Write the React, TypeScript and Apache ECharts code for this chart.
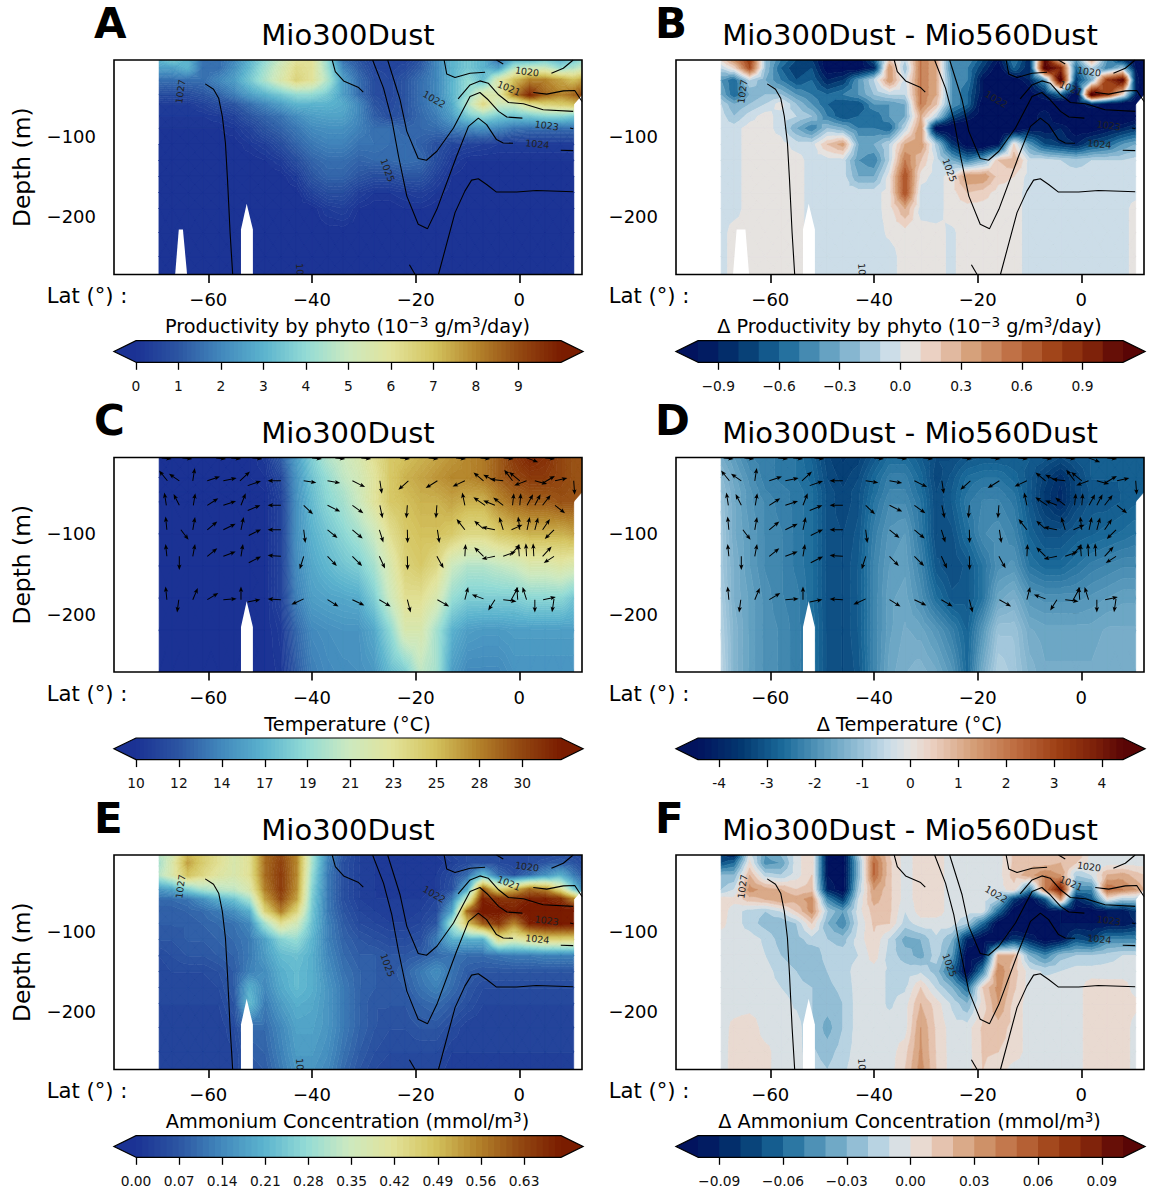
import React, { useEffect, useRef } from "react";
import * as echarts from "echarts";

const FONT = "DejaVu Sans";
const lats = [-69.5,-67,-64,-61,-58,-55,-52,-49,-46,-43,-40,-37,-34,-31,-28,-25,-22,-19,-16,-13,-10,-7,-4,-1,2,5,8,10.5,12.1];
const depths = [-5,-15,-30,-48,-60,-75,-90,-110,-130,-150,-170,-190,-220,-250,-272];
const tempDepths = [-5,-30,-48,-60,-100,-140,-180,-220,-272];

const productivity = [
[3,3.5,3,1.5,1.5,2,3,4,5,6,6,4,1.5,1,.5,.5,.5,1,2,3,3.5,3,1.5,3,3,3.5,3,3.5,4],
[2.5,2.5,3,1.5,1.5,2.2,3.2,4.3,5.3,6.3,6,4.2,2,1.2,.6,.5,.7,1.2,2,3,3.5,3,2.5,4.5,5,5,4,4.5,5],
[1.5,1.5,1.5,1.5,2,2.5,3.5,4.5,5.5,6.5,6,4.5,2.5,1.5,.8,.6,1,1.5,2,3,4,3.2,5.5,7,8,8,7.5,7,7.5],
[.8,.8,.8,1,1.3,1.8,2.5,3,3.5,4,4,3.5,2.5,1.5,.8,.6,1,1.5,2,3,4,5.5,5.5,8,9.7,8.5,8,8.5,9],
[.3,.3,.3,.5,.8,1,1.5,2,2.5,3,3,3,2.8,2,1,.7,1,1.5,2,2.8,4.5,6.3,5,5,6,6.5,6.7,7],
[.2,.2,.2,.2,.3,.5,1,1.3,1.6,2.1,2.5,2.6,2.6,2,1.2,.8,1,1.4,1.8,2.5,3.5,4,3.5,3.3,3.5,3.8,3.8,3.5],
[.1,.1,.1,.1,.1,.2,.5,1,1.3,1.7,2.1,2.2,2.2,1.9,1.5,1.5,1.3,1.4,1.5,1.8,2,2.2,2,1.6,1.5,1.5,1.5,1.5],
[0,0,0,0,0,0,.2,.4,.8,1.3,1.7,1.9,1.9,1.6,1.6,1.5,1.5,1.2,.9,.6,.5,.4,.3,.3,.3,.3,.3,.3],
[0,0,0,0,0,0,0,.1,.3,.8,1.3,1.5,1.5,1.3,1.4,1.4,1.5,1.4,.8,.3,.1,.1,.1,.1,.1,.1,.1,.1],
[0,0,0,0,0,0,0,0,0,.3,1,1.3,1.3,1,.8,.8,1,1,.5,.1,0,0,0,0,0,0,0,0],
[0,0,0,0,0,0,0,0,0,0,.5,.8,.8,.4,.2,.2,.3,.4,.2,0,0,0,0,0,0,0,0,0],
[0,0,0,0,0,0,0,0,0,0,0,.3,.4,.1,0,0,.1,.1,0,0,0,0,0,0,0,0,0,0],
[0,0,0,0,0,0,0,0,0,0,0,0,0,0,0,0,0,0,0,0,0,0,0,0,0,0,0,0],
[0,0,0,0,0,0,0,0,0,0,0,0,0,0,0,0,0,0,0,0,0,0,0,0,0,0,0,0],
[0,0,0,0,0,0,0,0,0,0,0,0,0,0,0,0,0,0,0,0,0,0,0,0,0,0,0,0],
];
const productivityDelta = [
[.1,.4,.8,-.2,-.5,-.7,-.8,-1.1,-1.1,-1.1,-.7,.2,-.1,.5,.3,-.5,-.4,-.7,-1,-.5,-.9,1.1,.2,-.4,.3,-.4,-.8,-1.1,-1.2],
[-.1,.1,.7,-.2,-.6,-.8,-.7,-1.1,-1.1,-1.1,-.9,.4,-.2,.5,.3,-.5,-.5,-.8,-1.1,-.6,-.9,1.2,.9,-.6,-.1,-.5,-.2,-1,-1.2],
[-.4,-.6,-.1,-.3,-.5,-.7,-.6,-.9,-.8,-.4,-.1,.4,-.05,.5,.3,-.4,-.5,-1,-1.2,-1.1,-.9,-.4,1.2,-.8,-.3,.8,1.1,-.9,-1.2],
[-.3,-.6,-.3,-.2,-.2,-.4,-.5,-.6,-.5,-.4,-.2,-.1,-.1,.5,.3,-.4,-.6,-1,-1.2,-1.3,-1.1,-.9,-.6,-1.2,1.2,.8,.1,-.9,-1.3],
[-.1,-.3,-.2,-.1,.05,-.2,-.4,-.6,-.7,-.7,-.4,-.4,-.3,.5,.2,-.4,-.6,-1.1,-1.2,-1.3,-1.1,-1.1,-1.2,-1.1,-.9,-1.1,-1.2,-1.2],
[-.05,-.2,-.05,.05,-.05,-.1,-.2,-.5,-.7,-.6,-.6,-.4,-.3,.3,-.1,-.7,-.9,-1.1,-1.2,-1.3,-1.1,-.9,-1.2,-1.2,-1.2,-1.2,-1.2,-1.1],
[-.05,-.05,.05,.05,-.05,-.3,-.5,-.2,-.3,-.5,-.5,-.6,-.1,.4,-1.1,-1.2,-1.2,-1.3,-1.3,-1.2,-1,-1,-.9,-1.1,-1.1,-1,-.9,-.8],
[-.05,-.05,.05,.05,.05,-.05,-.05,.2,.35,-.3,-.3,-.1,.3,.4,-.15,-.8,-1.1,-1.2,-1,.1,-.4,-.7,-.8,-.9,-.7,-.6,-.4,-.3],
[-.05,-.05,.05,.05,.05,.05,-.05,-.05,-.05,-.4,-.5,-.1,.5,.2,-.05,-.3,-.5,-.3,.2,.3,-.05,-.05,-.1,-.15,-.1,-.1,-.1,-.05],
[-.05,-.05,.05,.05,.05,.05,-.05,-.05,-.05,-.3,-.3,.05,.7,.05,-.05,.05,.4,.4,.15,.1,-.05,-.05,-.05,-.05,-.05,-.05,-.05,-.05],
[-.05,-.05,.05,.05,.05,.05,-.05,-.05,-.05,-.05,-.05,.05,.7,-.05,-.05,.05,.2,.15,.05,.05,-.05,-.05,-.05,-.05,-.05,-.05,-.05,-.05],
[-.05,-.05,.05,.05,.05,.05,-.05,-.05,-.05,-.05,-.05,.05,.3,-.05,-.05,.05,.05,.05,.05,.05,-.05,-.05,-.05,-.05,-.05,-.05,-.05,.05],
[-.05,.05,.05,.05,.05,.05,-.05,-.05,-.05,-.05,-.05,.02,.05,.05,.03,-.02,.05,.05,.05,.05,-.05,-.05,-.05,-.05,-.05,-.05,-.05,.05],
[-.05,.05,.05,.05,.05,.05,-.05,-.05,-.05,-.05,-.05,-.05,.05,.05,.03,-.02,.05,.05,.05,.05,-.05,-.05,-.05,-.05,-.05,-.05,-.05,.05],
[-.05,.05,.05,.05,.05,.05,-.05,-.05,-.05,-.05,-.05,-.05,.05,.05,.03,-.02,.05,.05,.05,.05,-.05,-.05,-.05,-.05,-.05,-.05,-.05,.05],
];
const temperature = [
[8,8,8,8,9,9,10,10.5,12.5,15.5,18,20,21,22,23.5,25,25.5,26,26.5,27,27.5,28,29,30.5,31.5,31,30,29.5,29.5],
[8,8,8,8,9,9,10,10.2,11.5,15,17.5,19,20.5,21.5,23,25,26,26.5,27,27.5,27.5,28,29,30,30.5,30.5,30,29.5,29.5],
[8,8,8,8,9,9,9.7,10,11.2,14.9,17.2,18.7,19.8,21.2,23,25,25.7,26.2,26.4,26.9,26.6,26.7,28,29,29.5,29.5,29.7,29.5,29.5],
[8,8,8,8,9,9,9.5,10,11,14.8,17,18.5,19.5,21,23,25,25.5,26,26,26.5,26,26,27.5,28.5,29,29,29.5,29.5],
[8,8,8,8,9,9,9.5,10,11,14.8,16.5,17.5,18.5,19.5,21,23.5,25,25.5,25.5,25,24,24,25,25.5,26,26,26,26.5],
[8,8,8,8,9,9,9.5,10,11,14.5,16,16.8,17.5,18,19.5,22,24.5,25,24,21,20,20,20.5,21,22,22,22.5,22],
[8,8,8,8,9,9,9.5,10,11,14,15.5,15.8,16,16.2,18,21,23.5,23.5,22,19,18,18,18,18,18.5,18.5,18.5,17.5],
[8,8,8,8,9,9,9.5,10,10.5,13,14.5,14.8,15,15,16,18.5,22,22,19.5,16.5,15.5,15.3,15.3,15.5,15.5,15.5,15.5,15.5],
[8,8,8,8,9,9,9.5,10,10.3,12.5,14,14.5,14.7,14.8,15.2,17,18,20.5,19.5,15.5,14.5,14.5,14.5,15,15,15,15,15],
];
const temperatureDelta = [
[-1.5,-1.8,-2.2,-2.3,-2.4,-2.5,-2.8,-3.3,-3.5,-3.4,-3,-2.6,-2.6,-2.9,-3.2,-3.2,-3,-2.9,-2.9,-2.9,-2.9,-3,-3.2,-3,-2.9,-2.9,-2.9,-2.9,-2.9],
[-1.2,-1.6,-2,-2.3,-2.4,-2.5,-2.7,-3.2,-3.4,-3.2,-2.7,-2.3,-2.3,-2.7,-3.3,-3,-2.6,-2.5,-2.5,-2.7,-3,-3.4,-3.7,-3.3,-2.9,-2.9,-2.9,-2.9,-2.9],
[-1.1,-1.5,-1.9,-2.2,-2.3,-2.4,-2.6,-3.1,-3.3,-3.1,-2.6,-2.2,-2.2,-2.6,-3.2,-2.9,-2.5,-2.3,-2.3,-2.5,-3,-3.5,-3.8,-3.3,-3,-3,-2.9,-2.9,-2.9],
[-1,-1.5,-1.9,-2.1,-2.3,-2.4,-2.6,-3.1,-3.3,-3.1,-2.5,-2.1,-2.1,-2.5,-3.2,-2.9,-2.4,-2.2,-2.2,-2.4,-3,-3.5,-3.8,-3.3,-3,-3,-2.9,-2.8],
[-.9,-1.5,-1.8,-2.1,-2.2,-2.4,-2.6,-3.1,-3.2,-3,-2.3,-1.9,-1.8,-2.4,-3.2,-3.1,-2.6,-2.1,-2,-2.2,-2.8,-3.1,-3.1,-2.9,-2.8,-2.7,-2.6,-2.5],
[-.9,-1.4,-1.8,-2.1,-2.2,-2.4,-2.6,-3.1,-3.2,-2.9,-2.2,-1.8,-1.7,-2.2,-3,-3.2,-3,-2.5,-2,-1.9,-2.5,-2.7,-2.7,-2.5,-2.3,-2.2,-2.1,-2.1],
[-.8,-1.4,-1.7,-2,-2.2,-2.3,-2.6,-3.1,-3.2,-2.9,-2.2,-1.7,-1.6,-2,-2.6,-3,-3,-2.5,-1.6,-1.4,-1.9,-2,-2,-2,-1.9,-1.8,-1.7,-1.7],
[-.7,-1.3,-1.7,-2,-2.1,-2.3,-2.5,-3.1,-3.2,-2.9,-2.2,-1.7,-1.5,-1.6,-1.9,-2.3,-2.8,-1.9,-1,-1,-1.5,-1.6,-1.6,-1.6,-1.6,-1.5,-1.5,-1.5],
[-.6,-1.3,-1.7,-2,-2.1,-2.3,-2.5,-3.1,-3.2,-3,-2.2,-1.6,-1.4,-1.3,-1.5,-1.9,-2.7,-1.5,-.7,-.9,-1.3,-1.5,-1.5,-1.5,-1.5,-1.4,-1.4,-1.4],
];
const ammonium = [
[.32,.36,.5,.46,.42,.38,.42,.58,.62,.55,.3,.14,.07,.03,.02,.02,.02,.02,.02,.04,.05,.05,.05,.04,.05,.05,.06,.05,.04],
[.3,.38,.52,.46,.42,.38,.42,.58,.63,.55,.3,.13,.06,.03,.02,.01,.01,.01,.01,.03,.05,.06,.05,.04,.05,.07,.08,.07,.05],
[.32,.38,.48,.44,.4,.38,.42,.58,.64,.55,.28,.12,.06,.03,.02,.01,.01,.01,.02,.05,.1,.22,.1,.06,.1,.15,.2,.12,.08],
[.16,.18,.25,.3,.32,.33,.38,.56,.64,.54,.26,.12,.06,.03,.02,.01,.01,.01,.02,.06,.2,.6,.45,.5,.58,.55,.42,.25,.15],
[.1,.1,.11,.15,.2,.23,.3,.52,.62,.52,.25,.12,.06,.03,.02,.02,.02,.02,.04,.12,.35,.68,.65,.65,.68,.68,.65,.55],
[.08,.08,.09,.1,.12,.15,.2,.45,.56,.45,.24,.12,.07,.04,.03,.02,.02,.03,.05,.18,.58,.72,.7,.68,.72,.72,.72,.72],
[.08,.08,.08,.09,.1,.11,.14,.3,.42,.36,.23,.13,.08,.05,.04,.03,.03,.04,.07,.3,.48,.6,.65,.55,.68,.7,.7,.7],
[.07,.07,.08,.08,.09,.1,.12,.18,.26,.28,.21,.13,.09,.07,.06,.05,.05,.06,.12,.2,.2,.2,.42,.38,.42,.45,.45,.45],
[.05,.06,.07,.07,.08,.09,.12,.17,.22,.23,.2,.14,.1,.08,.08,.07,.07,.08,.1,.11,.1,.1,.11,.12,.12,.13,.13,.13],
[.04,.05,.05,.05,.06,.08,.13,.15,.2,.22,.2,.15,.11,.09,.08,.07,.09,.12,.15,.11,.08,.07,.07,.07,.07,.07,.07,.07],
[.04,.04,.04,.04,.05,.08,.2,.14,.19,.22,.2,.16,.12,.09,.08,.07,.08,.11,.13,.1,.07,.05,.05,.05,.05,.05,.05,.05],
[.04,.04,.04,.04,.04,.07,.22,.12,.17,.2,.19,.16,.12,.09,.07,.07,.07,.09,.1,.08,.06,.04,.04,.04,.04,.04,.04,.04],
[.03,.03,.03,.03,.03,.05,.1,.1,.14,.18,.18,.16,.12,.09,.07,.06,.06,.07,.07,.05,.03,.03,.03,.03,.03,.03,.03,.03],
[.03,.03,.03,.03,.03,.04,.08,.09,.13,.17,.17,.15,.11,.08,.06,.05,.05,.05,.05,.03,.03,.03,.03,.03,.03,.03,.03,.03],
[.03,.03,.03,.03,.03,.04,.07,.08,.12,.16,.16,.14,.1,.07,.05,.04,.04,.04,.04,.02,.02,.02,.02,.02,.02,.02,.02,.02],
];
const ammoniumDelta = [
[-.08,-.09,-.005,-.04,-.03,-.005,.01,-.1,-.11,-.02,.04,.01,-.005,.005,.005,-.005,-.005,-.005,-.005,.012,.012,.012,.012,.02,-.005,-.005,-.005,-.005,-.005],
[-.07,-.06,.003,-.045,-.04,-.005,.01,-.1,-.11,-.03,.05,.012,-.005,.005,.005,-.005,-.005,-.005,-.005,.012,.015,.015,.02,.01,-.005,-.005,-.005,-.005,-.005],
[-.03,-.03,.02,-.015,-.02,-.005,.01,-.1,-.11,-.03,.05,.012,-.005,.005,.005,-.005,-.005,-.005,-.005,.015,.025,.04,.03,-.02,-.01,.02,.025,.015,.01],
[-.02,-.01,.035,.025,.02,.01,.015,-.09,-.11,-.02,.03,.012,-.005,.005,.005,-.005,-.005,-.005,-.005,.005,-.05,.04,.09,-.05,-.05,.05,.04,.03,.02],
[.005,.003,.015,.02,.03,.025,.035,-.05,-.08,-.01,.025,.012,-.005,.005,.005,-.005,-.005,-.005,-.02,-.08,-.11,-.07,.03,-.09,-.07,0,-.02,-.02],
[.005,-.005,-.015,-.02,-.01,.01,.035,-.02,-.04,-.005,.015,.012,-.01,.005,.005,-.005,-.005,-.005,-.06,-.11,-.12,-.11,-.1,-.11,-.11,-.1,-.1,-.08],
[.003,-.005,-.015,-.025,-.03,-.02,.01,-.03,-.05,-.01,.012,.01,-.015,-.005,-.005,-.005,-.02,-.06,-.11,-.12,-.12,-.11,-.1,-.1,-.1,-.1,-.1,-.09],
[-.005,-.005,-.005,-.012,-.025,-.025,-.015,-.02,-.025,-.005,.008,-.012,-.035,-.03,-.012,-.03,-.09,-.11,-.11,-.08,-.09,-.11,-.1,-.07,-.08,-.05,-.05,-.05],
[-.005,-.005,-.005,-.01,-.02,-.025,-.03,-.015,-.015,-.01,.005,-.015,-.025,-.035,-.015,-.04,-.11,-.1,.02,.02,-.03,-.05,-.025,-.02,-.02,-.015,-.01,-.01],
[-.005,-.005,-.005,-.005,-.015,-.02,-.03,-.02,-.015,-.005,-.005,-.012,-.015,-.012,-.025,-.06,-.11,-.05,.04,.015,-.005,-.012,-.01,-.005,-.005,-.005,-.005,-.005],
[-.005,-.005,-.005,-.005,-.01,-.015,-.02,-.022,-.018,-.005,-.005,-.012,-.012,.01,-.012,-.03,-.06,.01,.035,.012,-.005,-.005,-.005,-.005,.006,.005,.005,-.005],
[-.005,-.005,-.005,-.005,-.005,-.012,-.02,-.025,-.02,-.005,-.005,-.012,-.005,.02,.005,-.012,-.03,.005,.03,.006,-.005,-.005,-.005,-.005,.006,.006,.006,.003],
[-.005,.003,.007,-.005,-.005,-.005,-.02,-.035,-.02,-.005,-.005,-.005,-.005,.03,.008,-.005,-.005,.012,.015,.006,-.005,-.005,-.005,-.005,.006,.006,.006,-.005],
[-.005,.004,.006,.003,-.005,-.005,-.018,-.025,-.015,-.005,-.005,-.005,.006,.032,.009,-.005,-.005,.011,.01,.006,-.005,-.005,-.005,-.005,.006,.006,.006,-.005],
[-.005,.004,.006,.003,-.005,-.005,-.015,-.02,-.012,-.005,-.005,-.005,.01,.035,.01,-.005,-.005,.01,.006,-.005,-.005,-.005,-.005,-.005,.006,.006,.006,-.005],
];

// isopycnals: [lat, depth]
const isopycnals = [
[[-60.6,-34.7],[-59,-41.3],[-58,-52.5],[-57.3,-75.2],[-56.7,-108.3],[-56.3,-153.7],[-55.8,-219.8],[-55.3,-272]],
[[-36.1,-5],[-35.5,-19.4],[-33.9,-31],[-31,-39.3],[-30.1,-45]],
[[-25.4,-5],[-24.6,-21.5],[-23,-54.5],[-21.7,-93.8],[-19.5,-127.7],[-17.9,-129.8],[-15.9,-118.6],[-12.7,-89.7],[-9.5,-50.4],[-7.6,-45.5],[-6,-54.5],[-4,-69],[-2.4,-76],[.6,-77.3]],
[[-28.3,-5],[-26.2,-40],[-24.6,-79.3],[-23.3,-124.8],[-21.7,-174.4],[-19.5,-209.5],[-17.7,-214.9],[-15.9,-190.9],[-12.1,-124.8],[-9.8,-87.6],[-7.9,-77.3],[-6.3,-85.5],[-4.4,-104.1],[-3.1,-108.3],[-1.2,-108.7]],
[[-15.6,-272],[-12.4,-195],[-10.5,-168.2],[-9.2,-154.5],[-7.9,-152.9],[-6.3,-159.9],[-4.4,-169.4],[-.5,-169.4],[3.3,-167.4],[10.4,-169]],
[[-21.2,-259.9],[-20.1,-272]],
[[-14.5,-5],[-14,-22.3],[-12.4,-26.9],[-9.5,-21.5],[-6.6,-20.2]],
[[-11.8,-53.3],[-9.5,-36],[-7.6,-31],[-6,-33.9],[-4,-48.3],[-2.1,-57.9],[.8,-59.5],[4.6,-66.9],[10.4,-69]],
[[-4.4,-5],[-3.1,-9.9]],
[[6.2,-21.5],[8.5,-15.3],[10.4,-5]],
[[2.7,-45.5],[5.3,-47.5],[8.5,-43.4],[10.7,-43],[12.1,-56.6]],
[[9.8,-89.7],[10.4,-90.5]],
[[8,-117.4],[10.4,-117.8]],
];
const isopycnalLabels = ["1027","1022","1025","1020","1021","1023","1024","10"];
const isopycnalLabelAt = [[-65.4,-44.2,82],[-16.4,-53.7,-30],[-25.4,-142.1,-70],[1.5,-19.4,-8],[-2,-40,-22],[5.3,-86.4,-8],[3.5,-109.5,-6],[-42.3,-265.3,-85]];

// current vectors: lat, depth, u, v
const currents = [
[-69,-5.5,10,-1],[-65,-5.5,10,-1],[-58.5,-5.5,10,-1],[-55.6,-5.5,10,-1],[-51.5,-5.5,10,-1],[-40,-5.5,10,-1],[-35.5,-5.5,10,-1],[-30.5,-5.5,10,-1],[-23,-5.5,10,-1],[-17.5,-5.5,10,-1],[-12.2,-5.5,10,-1],[-7.5,-5.5,10,-1],[-3,-5.5,10,-1],[1.4,-5.5,11.7,-4.3],[5,-5.5,10,-1],
[-67.9,-34,-8.3,10.3],[-65.6,-34,-10.3,7],[-63,-34,2,12.7],[-60.2,-34,12.7,4.3],[-57.1,-34,13.3,2.7],[-53.9,-34,10,9.3],[-52.4,-40,13.3,4.7],[-46,-34,-13.3,0],[-41.6,-34,12.7,-2],[-37,-34,12.7,-2.3],[-32.2,-34,12.7,-6.3],[-26.9,-34,2,-13],[-21.4,-34,-10,-9],[-15.8,-34,-11.7,-7.3],[-10.5,-34,-12.3,-5.7],[-6.9,-34,-10,8.3],[-4.7,-34,-11.7,6],[-3.1,-34,-13.3,1.7],[-1.3,-34,-8.3,11],[.1,-34,-10.7,8.7],[1.4,-34,-12.3,-4.7],[3,-34,12.3,-3.3],[4.5,-37,12.3,7.3],[6.9,-34,12.3,2.7],[10.5,-34,1,-14],
[-68.1,-64.5,-2,12.7],[-65.6,-64.5,-5.7,11.3],[-62.9,-64.5,2,12],[-60.2,-64.5,11,7],[-57.1,-64.5,12.7,4.3],[-53.7,-64.5,4.7,12],[-52.4,-71,12.7,5.3],[-46,-64.5,-13.3,0],[-41.6,-64.5,9.3,-9],[-37,-64.5,12.7,-6.3],[-32.2,-64.5,11,-8],[-26.9,-64.5,2.7,-13],[-21.6,-64.5,-1,-13],[-15.9,-64.5,-1,-13],[-10.5,-64.5,-2.7,12.7],[-6.6,-64.5,-11.7,8],[-4.7,-64.5,-11.7,4.7],[-3.1,-64.5,-10,7.7],[-1.3,-64.5,1.3,12],[.1,-64.5,1,12],[1.5,-64.5,6,11],[3,-64.5,5.7,11],[4.5,-64.5,8,10.3],[6.9,-64.5,10,-8],
[-68,-95,-1.3,13.3],[-65.3,-95,7.7,-10],[-63,-95,2.3,12.7],[-60.2,-95,10,8.3],[-57.1,-95,12.3,6],[-53.7,-95,2.7,12.7],[-52.2,-102,12.3,6],[-46,-95,-13.3,0],[-41.6,-95,1.7,-13.3],[-37,-95,10,-8.3],[-32.2,-95,10.3,-8.7],[-27,-95,4,-12.7],[-21.6,-95,.3,-13.3],[-15.8,-95,2,-13.3],[-10.5,-95,-8.3,10.7],[-6.9,-94,-9.3,8.3],[-4.7,-95,-13.3,2.7],[-3.1,-95,-4,12.7],[-1.5,-95,11,5],[.1,-95,-1.7,13.3],[1.5,-95,2.7,12.7],[3,-95,3.3,12.3],[4.5,-95,7.3,10.7],[6.7,-95,-9.3,-9.3],
[-68,-128,-1.3,12.3],[-65.6,-128,0,-13.7],[-63,-128,2.3,12.3],[-60.2,-128,10,8],[-57.1,-128,12.3,4.7],[-53.7,-128,2,12.3],[-52.2,-136,12.3,6.3],[-46,-128,-13.3,1],[-41.6,-128,-4,-13],[-37,-128,9.3,-9.7],[-32.2,-128,9.7,-9.7],[-27,-128,5.7,-12.3],[-21.6,-128,.3,-13.7],[-15.9,-128,6.7,-12],[-10.5,-128,.7,12.3],[-6.9,-128,-9.3,9],[-4.7,-128,-13.3,-2.7],[-3.1,-128,12.7,4.7],[-1.8,-127,10,11],[0,-128,-1,12.3],[1.4,-128,-.7,13],[2.8,-128,-.7,13],[4.5,-128,9,9.7],[6.7,-128,-10.3,-6.7],
[-68,-182,-1.3,13.3],[-65.7,-182,-1.7,-12.7],[-63,-182,5,11.7],[-60.2,-182,11,6.7],[-57.1,-182,13.3,1],[-53.7,-182,0,13.3],[-52.4,-185,12.7,2.7],[-46,-182,-13.3,.7],[-41.6,-181,-12.3,-5.7],[-37,-182,11,-6.7],[-32.2,-182,12,-5.7],[-27,-182,11.3,-6.7],[-21.6,-182,3.3,-12.7],[-15.8,-182,11.7,-6.7],[-10.5,-182,3.3,12.7],[-6.9,-181,-11.7,4.3],[-4.7,-182,-6.7,-10.7],[-3.1,-182,13.3,-1.7],[-1.7,-184,7.7,14.3],[-.3,-182,-1,12.7],[1.4,-182,-4,12.7],[3,-182,0,-12.7],[4.6,-182,12.7,2.7],[6.7,-181,-2,-13.3],
];

const seamountTall = [[-53.7,-272],[-53.7,-216],[-52.6,-184],[-51.4,-216],[-51.4,-272]];
const seamountLowA = [[-66.4,-272],[-65.7,-216],[-64.9,-216],[-64.1,-272]];
const seamountLowB = [[-67.2,-272],[-66.5,-216],[-64.8,-216],[-64.1,-272]];

const prodTicks = [0,1,2,3,4,5,6,7,8,9];
const prodTickLabels = ["0","1","2","3","4","5","6","7","8","9"];
const dProdTicks = [-.9,-.6,-.3,0,.3,.6,.9];
const dProdTickLabels = ["−0.9","−0.6","−0.3","0.0","0.3","0.6","0.9"];
const tempTicks = [10,12.22,14.44,16.67,18.89,21.11,23.33,25.56,27.78,30];
const tempTickLabels = ["10","12","14","17","19","21","23","25","28","30"];
const dTempTicks = [-4,-3,-2,-1,0,1,2,3,4];
const dTempTickLabels = ["-4","-3","-2","-1","0","1","2","3","4"];
const ammTicks = [0,.07,.14,.21,.28,.35,.42,.49,.56,.63];
const ammTickLabels = ["0.00","0.07","0.14","0.21","0.28","0.35","0.42","0.49","0.56","0.63"];
const dAmmTicks = [-.09,-.06,-.03,0,.03,.06,.09];
const dAmmTickLabels = ["−0.09","−0.06","−0.03","0.00","0.03","0.06","0.09"];

const seqStops: [number,string][] = [[0,"#1b3294"],[.1,"#2c55a2"],[.2,"#4288bc"],[.3,"#5bb3ce"],[.4,"#93dbd5"],[.5,"#cce9c0"],[.6,"#e2e39b"],[.7,"#d4c45f"],[.8,"#b5852c"],[.9,"#944a12"],[1,"#7a1c00"]];
const divStops: [number,string][] = [[-1,"#02135e"],[-.8,"#03376f"],[-.6,"#1b6a9a"],[-.4,"#5f9ebf"],[-.2,"#a4c8dc"],[-.1,"#cbdde8"],[0,"#e6e3e0"],[.1,"#ebd0c2"],[.3,"#d49d76"],[.5,"#bd6b3f"],[.7,"#9c3e13"],[.88,"#7a1e09"],[1,"#590505"]];

function hexRgb(h: string) { return [1,3,5].map(i => parseInt(h.slice(i,i+2),16)); }
function colormap(stops: [number,string][], t: number) {
  if (t <= stops[0][0]) return stops[0][1];
  for (let i = 1; i < stops.length; i++) {
    if (t <= stops[i][0]) {
      const f = (t - stops[i-1][0]) / (stops[i][0] - stops[i-1][0]);
      const a = hexRgb(stops[i-1][1]), b = hexRgb(stops[i][1]);
      return `rgb(${a.map((c,k)=>Math.round(c+(b[k]-c)*f)).join(",")})`;
    }
  }
  return stops[stops.length-1][1];
}

echarts.graphic.registerShape("bandfill", (echarts.graphic as any).extendShape({
  type: "bandfill",
  shape: { polys: [] as number[][][] },
  buildPath(ctx: any, shape: any) {
    for (const p of shape.polys) {
      ctx.moveTo(p[0][0], p[0][1]);
      for (let i = 1; i < p.length; i++) ctx.lineTo(p[i][0], p[i][1]);
      ctx.closePath();
    }
  },
}));

type V = number[];
function clipPoly(poly: V[], f: (p: V) => number) {
  const out: V[] = [];
  for (let i = 0; i < poly.length; i++) {
    const a = poly[i], b = poly[(i+1)%poly.length];
    const fa = f(a), fb = f(b);
    if (fa >= 0) out.push(a);
    if ((fa >= 0) !== (fb >= 0)) {
      const t = fa / (fa - fb);
      out.push([a[0]+(b[0]-a[0])*t, a[1]+(b[1]-a[1])*t, a[2]+(b[2]-a[2])*t]);
    }
  }
  return out;
}
function triangles(rows: number[][], ys: number[]) {
  const tris: V[][] = [];
  for (let j = 0; j + 1 < ys.length; j++) for (let i = 0; i + 1 < lats.length; i++) {
    const raw: [number,number,number|undefined][] = [
      [lats[i],ys[j],rows[j][i]],[lats[i+1],ys[j],rows[j][i+1]],[lats[i+1],ys[j+1],rows[j+1][i+1]],[lats[i],ys[j+1],rows[j+1][i]]];
    const ok = raw.filter(p => p[2] != null) as V[];
    if (ok.length === 4) {
      const c = [0,1,2].map(k => (ok[0][k]+ok[1][k]+ok[2][k]+ok[3][k])/4);
      for (let k = 0; k < 4; k++) tris.push([ok[k], ok[(k+1)%4], c]);
    } else if (ok.length === 3) tris.push(ok);
  }
  return tris;
}
function bandsFor(levels: number[], colorOf: (v: number) => string) {
  const out: {lo:number,hi:number,color:string}[] = [];
  out.push({lo:-1e9,hi:levels[0],color:colorOf(levels[0]-1e6)});
  for (let i = 0; i + 1 < levels.length; i++) out.push({lo:levels[i],hi:levels[i+1],color:colorOf((levels[i]+levels[i+1])/2)});
  out.push({lo:levels[levels.length-1],hi:1e9,color:colorOf(levels[levels.length-1]+1e6)});
  return out;
}
function levelRange(a: number, b: number, n: number) {
  const l: number[] = [];
  for (let i = 0; i <= n; i++) l.push(a+(b-a)*i/n);
  return l;
}
function fieldPolys(rows: number[][], ys: number[], bands: {lo:number,hi:number,color:string}[]) {
  const tris = triangles(rows, ys);
  return bands.map(b => {
    const polys: V[][] = [];
    for (const t of tris) {
      const mn = Math.min(t[0][2],t[1][2],t[2][2]), mx = Math.max(t[0][2],t[1][2],t[2][2]);
      if (mx < b.lo || mn > b.hi) continue;
      let p = clipPoly(t, q => q[2]-b.lo);
      if (p.length >= 3) p = clipPoly(p, q => b.hi-q[2]);
      if (p.length >= 3) polys.push(p);
    }
    return polys;
  });
}

const leftCol = 114, rightCol = 676, plotW = 468, plotH = 214.5;
const rowTop = [60, 457.5, 855];
const barTop = [340.7, 738, 1135.7];
const barH = 21.6;
const titleY = [35, 433, 830];
const barLabelY = [326.5, 724, 1121.5];
const latLabelY = [295, 693, 1090];
const letterY = [23, 420, 818];

const seqColor = (a: number, b: number) => (v: number) => colormap(seqStops, (v-a)/(b-a));
const panels = [
  { letter:"A", col:0,row:0, title:"Mio300Dust", rows:productivity, ys:depths, levels:levelRange(0,10,100), color:seqColor(0,10), lo:0,hi:10, ticks:prodTicks, tickLabels:prodTickLabels,
    label:"{a|Productivity by phyto (10}{s|−3}{a| g/m}{s|3}{a|/day)}", contours:true, arrows:false, masks:[seamountLowA,seamountTall] },
  { letter:"B", col:1,row:0, title:"Mio300Dust - Mio560Dust", rows:productivityDelta, ys:depths, levels:levelRange(-1,1.1,21), color:(v:number)=>colormap(divStops,(v-.05)/1.05), lo:-1,hi:1.1, ticks:dProdTicks, tickLabels:dProdTickLabels,
    label:"{a|Δ Productivity by phyto (10}{s|−3}{a| g/m}{s|3}{a|/day)}", contours:true, arrows:false, masks:[seamountLowB,seamountTall] },
  { letter:"C", col:0,row:1, title:"Mio300Dust", rows:temperature, ys:tempDepths, levels:levelRange(10,32,110), color:seqColor(10,32), lo:10,hi:32, ticks:tempTicks, tickLabels:tempTickLabels,
    label:"{a|Temperature (°C)}", contours:false, arrows:true, masks:[seamountTall] },
  { letter:"D", col:1,row:1, title:"Mio300Dust - Mio560Dust", rows:temperatureDelta, ys:tempDepths, levels:levelRange(-4.44,4.44,64), color:(v:number)=>colormap(divStops,v/4.44), lo:-4.44,hi:4.44, ticks:dTempTicks, tickLabels:dTempTickLabels,
    label:"{a|Δ Temperature (°C)}", contours:false, arrows:true, masks:[seamountTall] },
  { letter:"E", col:0,row:2, title:"Mio300Dust", rows:ammonium, ys:depths, levels:levelRange(0,.69,70), color:seqColor(0,.69), lo:0,hi:.69, ticks:ammTicks, tickLabels:ammTickLabels,
    label:"{a|Ammonium Concentration (mmol/m}{s|3}{a|)}", contours:true, arrows:false, masks:[seamountTall] },
  { letter:"F", col:1,row:2, title:"Mio300Dust - Mio560Dust", rows:ammoniumDelta, ys:depths, levels:levelRange(-.1,.1,20), color:(v:number)=>colormap(divStops,v/.1), lo:-.1,hi:.1, ticks:dAmmTicks, tickLabels:dAmmTickLabels,
    label:"{a|Δ Ammonium Concentration (mmol/m}{s|3}{a|)}", contours:true, arrows:false, masks:[seamountTall] },
];

function buildOption() {
  const grid: any[] = [], xAxis: any[] = [], yAxis: any[] = [], series: any[] = [], graphic: any[] = [];
  const n = panels.length;
  panels.forEach((p, i) => {
    const left = p.col === 0 ? leftCol : rightCol;
    const cx = left + plotW/2;
    grid[i] = { left, top: rowTop[p.row], width: plotW, height: plotH, show:true, z:10, backgroundColor:"transparent", borderColor:"#000", borderWidth:1.6 };
    grid[i+n] = { left: left+22, top: barTop[p.row], width: plotW-44+1, height: barH };
    xAxis[i] = { type:"value", gridIndex:i, min:-78.2, max:12.1, splitLine:{show:false}, axisLine:{show:false},
      axisTick:{length:8.5,lineStyle:{width:1.6,color:"#000"},customValues:[-60,-40,-20,0]},
      axisLabel:{customValues:[-60,-40,-20,0],margin:16,fontSize:18,fontFamily:FONT,color:"#000",formatter:(v:number)=>String(v).replace("-","−")} };
    yAxis[i] = { type:"value", gridIndex:i, min:-272, max:-5, splitLine:{show:false}, axisLine:{show:false},
      axisTick:{length:8.5,lineStyle:{width:1.6,color:"#000"},customValues:[-100,-200]},
      axisLabel:{customValues:[-100,-200],margin:18,fontSize:18,fontFamily:FONT,color:"#000",formatter:(v:number)=>String(v).replace("-","−")},
      ...(p.col===0 ? {name:"Depth (m)",nameLocation:"middle",nameGap:92,nameRotate:90,nameTextStyle:{fontSize:23.4,fontFamily:FONT,color:"#000",verticalAlign:"middle"}} : {}) };
    xAxis[i+n] = { type:"value", gridIndex:i+n, min:p.lo, max:p.hi, splitLine:{show:false}, axisLine:{show:false},
      axisTick:{length:7.5,lineStyle:{width:1.3,color:"#000"},customValues:p.ticks},
      axisLabel:{customValues:p.ticks,margin:16.5,fontSize:13.8,fontFamily:FONT,color:"#111",formatter:(v:number)=>p.tickLabels[p.ticks.indexOf(v)] ?? ""} };
    yAxis[i+n] = { type:"value", gridIndex:i+n, min:0, max:1, show:false };

    const bands = bandsFor(p.levels, p.color);
    const polys = fieldPolys(p.rows as number[][], p.ys, bands);
    series.push({ type:"custom", xAxisIndex:i, yAxisIndex:i, coordinateSystem:"cartesian2d", silent:true, clip:true, z:2,
      data: bands.map(()=>[-60,-100]),
      renderItem:(params:any, api:any)=>{
        const b = bands[params.dataIndex];
        const pts = polys[params.dataIndex].map(q=>q.map(v=>api.coord([v[0],v[1]])));
        return { type:"bandfill", shape:{polys:pts}, style:{fill:b.color,stroke:b.color,lineWidth:.6} };
      } });
    series.push({ type:"custom", xAxisIndex:i, yAxisIndex:i, coordinateSystem:"cartesian2d", silent:true, clip:true, z:2,
      data: p.masks.map(()=>[-60,-100]),
      renderItem:(params:any, api:any)=>({ type:"polygon", shape:{points:p.masks[params.dataIndex].map(q=>api.coord(q))}, style:{fill:"#fff"} }) });
    if (p.contours) {
      isopycnals.forEach(line => series.push({ type:"line", xAxisIndex:i, yAxisIndex:i, data:line, symbol:"none", silent:true, z:3, clip:true, lineStyle:{color:"#000",width:1.1} }));
      series.push({ type:"custom", xAxisIndex:i, yAxisIndex:i, coordinateSystem:"cartesian2d", silent:true, clip:true, z:3,
        data: isopycnalLabelAt,
        renderItem:(params:any, api:any)=>{
          const q = isopycnalLabelAt[params.dataIndex];
          const c = api.coord([q[0],q[1]]);
          return { type:"text", x:c[0], y:c[1], rotation:q[2]*Math.PI/180, style:{text:isopycnalLabels[params.dataIndex],fontSize:9.5,fontFamily:FONT,fill:"#222",align:"center",verticalAlign:"middle"} };
        } });
    }
    if (p.arrows) {
      series.push({ type:"custom", xAxisIndex:i, yAxisIndex:i, coordinateSystem:"cartesian2d", silent:true, clip:true, z:4,
        data: currents,
        renderItem:(params:any, api:any)=>{
          const q = currents[params.dataIndex];
          const t = api.coord([q[0],q[1]]);
          const L = Math.hypot(q[2],q[3]), ux=q[2]/L, uy=-q[3]/L, nx=-uy, ny=ux;
          const at=(a:number,b:number)=>[t[0]+ux*a+nx*b,t[1]+uy*a+ny*b];
          return { type:"polygon", shape:{points:[at(0,-.5),at(L-4.5,-.5),at(L-5.5,-2.2),at(L,0),at(L-5.5,2.2),at(L-4.5,.5),at(0,.5)]}, style:{fill:"#000"} };
        } });
    }
    // colour bar: strips are painted left to right and each one runs on under the next, so no seams show
    const span = p.hi-p.lo, tipL = p.lo-span*.052, tipR = p.hi+span*.052;
    const strips = bands.slice(1,-1);
    series.push({ type:"custom", xAxisIndex:i+n, yAxisIndex:i+n, coordinateSystem:"cartesian2d", silent:true, z:2,
      data: strips.map(s=>[s.lo,s.hi]),
      renderItem:(params:any, api:any)=>{
        const s = strips[params.dataIndex];
        const a = api.coord([s.lo,0]), b = api.coord([s.hi,1]);
        const last = params.dataIndex === strips.length-1;
        return { type:"rect", shape:{x:a[0],y:b[1],width:b[0]-a[0]+(last?0:1.5),height:a[1]-b[1]}, style:{fill:s.color} };
      } });
    const ends = [[[p.lo,0],[p.lo,1],[tipL,.5]],[[p.hi,0],[p.hi,1],[tipR,.5]]];
    const endColors = [bands[0].color,bands[bands.length-1].color];
    series.push({ type:"custom", xAxisIndex:i+n, yAxisIndex:i+n, coordinateSystem:"cartesian2d", silent:true, z:3,
      data: [[p.lo,0],[p.hi,0]],
      renderItem:(params:any, api:any)=>({ type:"polygon", shape:{points:ends[params.dataIndex].map(q=>api.coord(q))}, style:{fill:endColors[params.dataIndex]} }) });
    const outline = [[p.lo,0],[tipL,.5],[p.lo,1],[p.hi,1],[tipR,.5],[p.hi,0]];
    series.push({ type:"custom", xAxisIndex:i+n, yAxisIndex:i+n, coordinateSystem:"cartesian2d", silent:true, z:4,
      data: [[p.lo,0]],
      renderItem:(_:any, api:any)=>({ type:"polygon", shape:{points:outline.map(q=>api.coord(q))}, style:{fill:"none",stroke:"#000",lineWidth:1.2} }) });

    graphic.push({ type:"text", x:cx, y:titleY[p.row], style:{text:p.title,fontFamily:FONT,fontSize:29,fill:"#000",align:"center",verticalAlign:"middle"} });
    graphic.push({ type:"text", x:p.col===0?94:655, y:letterY[p.row], style:{text:p.letter,fontFamily:FONT,fontSize:42,fontWeight:"bold",fill:"#000",align:"left",verticalAlign:"middle"} });
    graphic.push({ type:"text", x:p.col===0?127.5:689.5, y:latLabelY[p.row], style:{text:"Lat (°) :",fontFamily:FONT,fontSize:21.2,fill:"#000",align:"right",verticalAlign:"middle"} });
    graphic.push({ type:"text", x:cx-.5, y:barLabelY[p.row], style:{text:p.label,fill:"#000",align:"center",verticalAlign:"middle",
      rich:{a:{fontFamily:FONT,fontSize:19.3,lineHeight:23,fill:"#000"},s:{fontFamily:FONT,fontSize:13.5,lineHeight:23,verticalAlign:"top",fill:"#000"}}} });
  });
  return { animation:false, backgroundColor:"#fff", grid, xAxis, yAxis, series, graphic };
}

export default function App() {
  const ref = useRef<HTMLDivElement>(null);
  useEffect(() => {
    document.body.style.margin = "0";
    const chart = echarts.init(ref.current!, undefined, { renderer:"svg" });
    chart.setOption(buildOption() as any);
    return () => chart.dispose();
  }, []);
  return <div ref={ref} style={{ position:"absolute", left:0, top:0, width:1149, height:1191 }} />;
}
